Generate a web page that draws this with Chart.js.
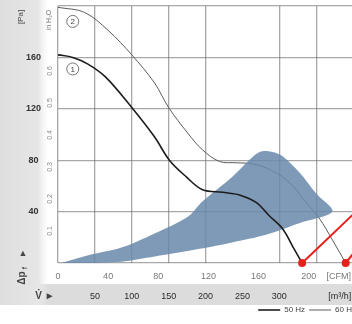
<!DOCTYPE html>
<html>
<head>
<meta charset="utf-8">
<script src="https://cdn.jsdelivr.net/npm/chart.js@4.4.0/dist/chart.umd.min.js"></script>
<style>
  html, body { margin: 0; padding: 0; background: #fff; overflow: hidden; }
  #wrap { width: 352px; height: 324px; overflow: hidden; }
</style>
</head>
<body>
<div id="wrap"><canvas id="fan" width="360" height="324"></canvas></div>
<script>
// flow in m³/h, pressure in Pa
const curve50Flow = [0, 20, 40, 64, 100, 131, 151, 174, 196, 223, 246, 269, 286, 304, 321, 331];
const curve50Pres = [162, 160, 155, 145, 121, 98, 80, 67, 57, 55, 53, 47, 37, 27, 10, 0];

const curve60Flow = [0, 36, 68, 100, 131, 150, 176, 196, 219, 242, 265, 290, 315, 335, 354, 372, 390];
const curve60Pres = [199, 195, 181, 162, 140, 121, 101, 88, 79, 78, 77, 72, 62, 48, 35, 18, 0];

// shaded working range, outline going round
const areaFlow = [5, 41, 86, 131, 176, 196, 236, 259, 272, 285, 302, 328, 350, 372, 327, 282, 236, 192, 131, 86, 41, 5];
const areaPres = [0, 6, 12, 23, 36, 48, 67, 80, 86, 87, 84, 70, 54, 40, 31, 22, 16, 11, 5, 1, 0, 0];

// red pointer lines
const pointer1Flow = [331, 404];
const pointer1Pres = [0, 40];
const pointer2Flow = [390, 404];
const pointer2Pres = [0, 10];

const gridFlow = [0, 50, 100, 150, 200, 300, 350, 400];
const paTicks = [0, 40, 80, 120, 160, 200];
const inchTicks = [0.1, 0.2, 0.3, 0.4, 0.5, 0.6];
const cfmTicks = [0, 40, 80, 120, 160, 200];
const m3hTicks = [50, 100, 150, 200, 250, 300];

const curveLabels = [{ flow: 20, pres: 188, text: "2" }, { flow: 20, pres: 151, text: "1" }];

const FLOW_MAX = 404;
const CFM_FACTOR = 1.699;
const PA_PER_INCH = 249.09;
const CFM_UNIT_AT = 224;
const M3H_UNIT_AT = 382;
const gridColor = "rgba(110,110,110,0.6)";
const fontFam = "'Liberation Sans', Arial, sans-serif";

function pts(xs, ys) {
  return xs.map((x, i) => ({ x: x, y: ys[i] }));
}

function noPad(s) {
  s.paddingLeft = 0;
  s.paddingRight = 0;
  s.paddingTop = 0;
  s.paddingBottom = 0;
}

const backdrop = {
  id: "backdrop",
  beforeDraw(chart) {
    const c = chart.ctx;
    c.save();
    c.fillStyle = "#fff";
    c.fillRect(0, 0, chart.width, chart.height);
    c.fillStyle = "#dcdcdc";
    c.fillRect(0, 284, chart.width, 21);
    const g = c.createLinearGradient(0, 0, 48, 0);
    g.addColorStop(0, "#dedede");
    g.addColorStop(0.8, "#e6e6e6");
    g.addColorStop(1, "rgba(240,240,240,0)");
    c.fillStyle = g;
    c.fillRect(0, 0, 48, 305);
    c.restore();
  },
  afterDraw(chart) {
    const c = chart.ctx;
    const xs = chart.scales.x;
    const ys = chart.scales.y;
    c.save();
    c.fillStyle = "#444";
    c.textAlign = "center";
    c.textBaseline = "middle";

    c.font = "8px " + fontFam;
    c.save();
    c.translate(21, 17);
    c.rotate(-Math.PI / 2);
    c.fillText("[Pa]", 0, 0);
    c.restore();

    c.save();
    c.translate(49, 20);
    c.rotate(-Math.PI / 2);
    c.fillStyle = "#777";
    c.font = "7px " + fontFam;
    c.fillText("in H\u2082O", 0, 0);
    c.restore();

    c.font = "bold 9px " + fontFam;
    c.fillText("\u25B2", 23, 254);
    c.save();
    c.translate(22, 276);
    c.rotate(-Math.PI / 2);
    c.font = "bold 10px " + fontFam;
    c.fillText("\u0394p", -2, 0);
    c.font = "bold 7px " + fontFam;
    c.fillText("f", 8, 3);
    c.restore();

    c.font = "bold 10px " + fontFam;
    c.fillText("V\u0307 \u25BA", 45, 296);

    c.font = "8px " + fontFam;
    c.strokeStyle = "#555";
    c.lineWidth = 0.8;
    curveLabels.forEach((l) => {
      const px = xs.getPixelForValue(l.flow);
      const py = ys.getPixelForValue(l.pres);
      c.beginPath();
      c.arc(px, py, 6, 0, Math.PI * 2);
      c.fillStyle = "#fff";
      c.fill();
      c.stroke();
      c.fillStyle = "#444";
      c.fillText(l.text, px, py + 0.5);
    });
    c.restore();
  }
};

const ctx = document.getElementById("fan").getContext("2d");

new Chart(ctx, {
  type: "scatter",
  data: {
    datasets: [
      {
        label: "50 Hz",
        data: pts(curve50Flow, curve50Pres),
        showLine: true,
        borderColor: "#1c1c1c",
        backgroundColor: "#1c1c1c",
        borderWidth: 1.6,
        pointRadius: 0,
        tension: 0.35,
        order: 0
      },
      {
        label: "60 Hz",
        data: pts(curve60Flow, curve60Pres),
        showLine: true,
        borderColor: "#5c5c5c",
        backgroundColor: "#5c5c5c",
        borderWidth: 1,
        pointRadius: 0,
        tension: 0.35,
        order: 2
      },
      {
        label: "area",
        data: pts(areaFlow, areaPres),
        showLine: true,
        fill: "shape",
        backgroundColor: "rgba(104,136,170,0.85)",
        borderWidth: 0,
        pointRadius: 0,
        tension: 0.3,
        order: 1
      },
      {
        label: "p1",
        data: pts(pointer1Flow, pointer1Pres),
        showLine: true,
        borderColor: "#e8201c",
        borderWidth: 2,
        pointRadius: [4, 0],
        pointBackgroundColor: "#e8201c",
        pointBorderWidth: 0,
        clip: false,
        order: -1
      },
      {
        label: "p2",
        data: pts(pointer2Flow, pointer2Pres),
        showLine: true,
        borderColor: "#e8201c",
        borderWidth: 2,
        pointRadius: [4, 0],
        pointBackgroundColor: "#e8201c",
        pointBorderWidth: 0,
        clip: false,
        order: -1
      }
    ]
  },
  options: {
    responsive: false,
    animation: false,
    layout: { padding: { top: 6, right: 0, left: 0, bottom: 0 } },
    plugins: {
      tooltip: { enabled: false },
      legend: {
        position: "bottom",
        align: "end",
        labels: {
          filter: (item) => item.text === "50 Hz" || item.text === "60 Hz",
          usePointStyle: true,
          pointStyle: "line",
          pointStyleWidth: 22,
          padding: 4,
          color: "#444",
          font: { size: 8, family: fontFam }
        }
      }
    },
    scales: {
      x: {
        type: "linear",
        min: 0,
        max: FLOW_MAX,
        position: "bottom",
        weight: 0,
        afterBuildTicks: (s) => { s.ticks = gridFlow.map((v) => ({ value: v })); },
        ticks: { display: false },
        grid: { color: gridColor, lineWidth: 1.3, drawTicks: false },
        border: { display: false },
        afterFit: noPad
      },
      xc: {
        type: "linear",
        min: 0,
        max: FLOW_MAX / CFM_FACTOR,
        position: "bottom",
        weight: 1,
        afterBuildTicks: (s) => { s.ticks = cfmTicks.concat([CFM_UNIT_AT]).map((v) => ({ value: v })); },
        ticks: {
          callback: (v) => (v === CFM_UNIT_AT ? "[CFM]" : v),
          autoSkip: false,
          maxRotation: 0,
          padding: 8,
          color: "#777",
          font: { size: 9, family: fontFam }
        },
        grid: { display: false, drawTicks: false },
        border: { display: false },
        afterFit: (s) => { s.height = 20; noPad(s); }
      },
      xm: {
        type: "linear",
        min: 0,
        max: FLOW_MAX,
        position: "bottom",
        weight: 2,
        afterBuildTicks: (s) => { s.ticks = m3hTicks.concat([M3H_UNIT_AT]).map((v) => ({ value: v })); },
        ticks: {
          callback: (v) => (v === M3H_UNIT_AT ? "[m\u00B3/h]" : v),
          autoSkip: false,
          maxRotation: 0,
          padding: 8,
          color: "#2a2a2a",
          font: { size: 9, family: fontFam }
        },
        grid: { display: false, drawTicks: false },
        border: { display: false },
        afterFit: (s) => { s.height = 19; noPad(s); }
      },
      y: {
        type: "linear",
        min: 0,
        max: 200,
        position: "left",
        weight: 2,
        afterBuildTicks: (s) => { s.ticks = paTicks.map((v) => ({ value: v })); },
        ticks: {
          callback: (v) => (v === 0 || v === 200 ? "" : v),
          crossAlign: "center",
          color: "#333",
          font: { size: 9, weight: "bold", family: fontFam }
        },
        grid: { color: gridColor, lineWidth: 1.3, drawTicks: false },
        border: { display: false },
        afterFit: (s) => { s.width = 44; noPad(s); }
      },
      yin: {
        type: "linear",
        min: 0,
        max: 200 / PA_PER_INCH,
        position: "left",
        weight: 1,
        afterBuildTicks: (s) => { s.ticks = inchTicks.map((v) => ({ value: v })); },
        ticks: {
          callback: (v) => v.toFixed(1),
          minRotation: 90,
          maxRotation: 90,
          crossAlign: "center",
          color: "#888",
          font: { size: 7, family: fontFam }
        },
        grid: { display: false, drawTicks: false },
        border: { display: false },
        afterFit: (s) => { s.width = 14; noPad(s); }
      }
    }
  },
  plugins: [backdrop]
});
</script>
</body>
</html>
